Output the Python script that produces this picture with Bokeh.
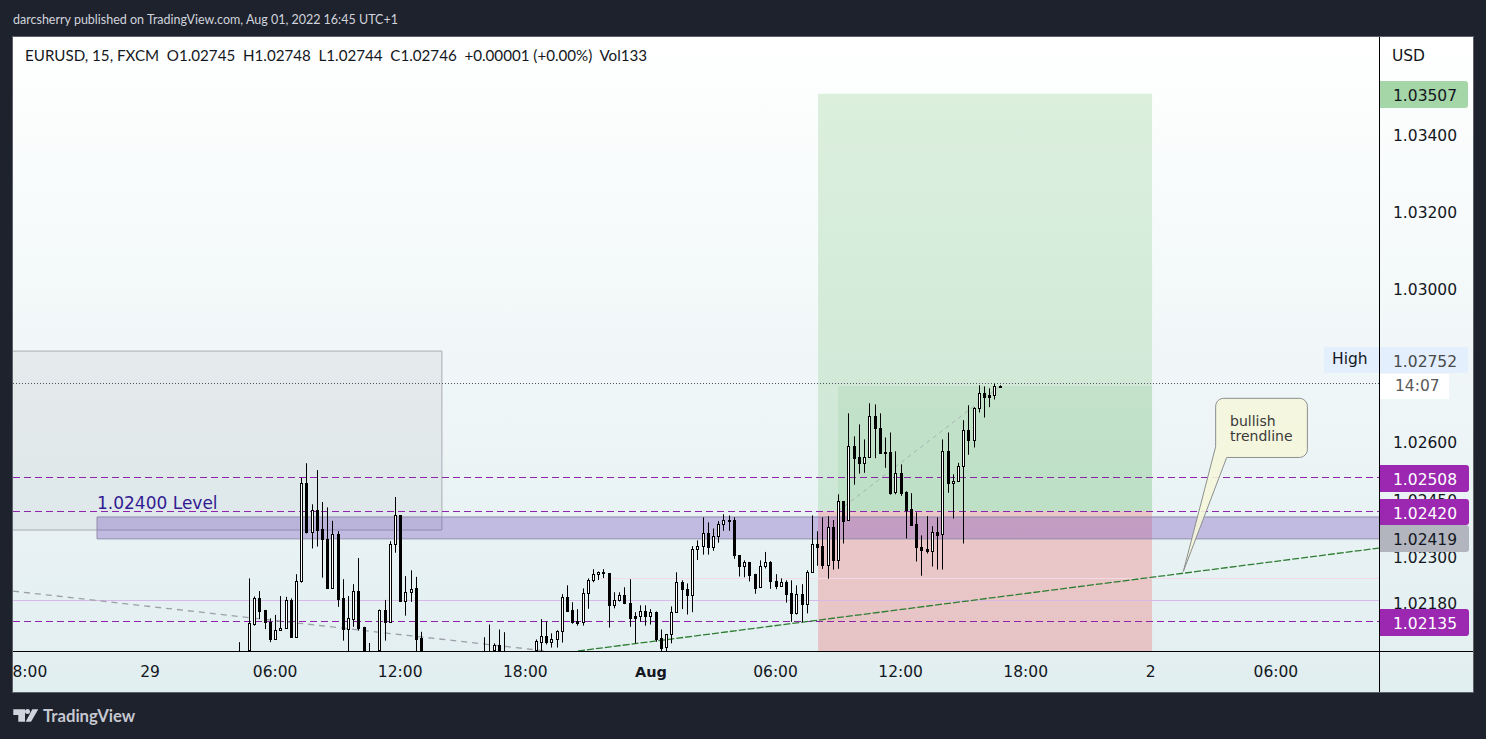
from bokeh.plotting import figure
from bokeh.models import Range1d, FixedTicker, Label, BoxAnnotation, PolyAnnotation, NumeralTickFormatter
from bokeh.embed import file_html
from bokeh.resources import INLINE
import numpy as np

# ---------- data: quarter-hour slots after 29 Jul 00:00, OHLC ----------
slots = [17,19,20,21,22,23,24,25,26,27,28,29,30,31,32,33,34,35,36,37,38,39,40,41,42,44,45,46,47,48,49,50,51,52,
 64,65,66,67,68,74,75,76,77,78,79,80,81,82,83,84,85,86,87,88,89,90,91,92,93,94,95,96,97,98,99,100,101,102,103,104,105,
 106,107,108,109,110,111,112,113,114,115,116,117,118,119,120,121,122,123,124,125,126,
 127,128,129,130,131,132,133,134,135,136,137,138,139,140,141,142,143,144,145,146,147,148,149,150,151,152,153,154,155,156,157,158,159,160,161,162,163]
opens = [1.02050,1.02040,1.02126,1.02193,1.02162,1.02132,1.02088,1.02110,1.02115,1.02189,1.02093,1.02237,1.02493,1.02367,1.02422,1.02373,1.02348,1.02221,1.02360,1.02193,1.02114,1.02140,1.02211,1.02118,1.02050,1.02040,1.02162,1.02132,1.02334,1.02409,1.02187,1.02209,1.02219,1.02089,
 1.02050,1.02050,1.02040,1.02071,1.02050,1.02040,1.02080,1.02094,1.02080,1.02086,1.02107,1.02196,1.02162,1.02133,1.02131,1.02206,1.02240,1.02256,1.02263,1.02258,1.02177,1.02188,1.02201,1.02180,1.02146,1.02146,1.02159,1.02146,1.02157,1.02089,1.02066,1.02099,1.02157,1.02235,1.02217,1.02201,1.02321,
 1.02329,1.02362,1.02326,1.02355,1.02386,1.02397,1.02396,1.02305,1.02277,1.02287,1.02256,1.02222,1.02277,1.02287,1.02237,1.02224,1.02235,1.02206,1.02156,1.02204,1.02178,
 1.02263,1.02335,1.02329,1.02281,1.02378,1.02294,1.02446,1.02396,1.02589,1.02560,1.02546,1.02560,1.02667,1.02638,1.02573,1.02573,1.02469,1.02519,1.02469,1.02425,1.02386,1.02326,1.02321,1.02317,1.02365,1.02360,1.02576,1.02493,1.02498,1.02537,1.02631,1.02605,1.02688,1.02727,1.02722,1.02722,1.02745]
highs = [1.02079,1.02245,1.02198,1.02212,1.02163,1.02141,1.02150,1.02199,1.02197,1.02193,1.02256,1.02507,1.02545,1.02438,1.02527,1.02444,1.02430,1.02395,1.02368,1.02243,1.02199,1.02230,1.02298,1.02119,1.02077,1.02164,1.02189,1.02342,1.02457,1.02409,1.02251,1.02266,1.02249,1.02106,
 1.02092,1.02125,1.02076,1.02112,1.02105,1.02086,1.02139,1.02133,1.02102,1.02110,1.02204,1.02227,1.02183,1.02165,1.02219,1.02245,1.02269,1.02263,1.02269,1.02258,1.02209,1.02209,1.02222,1.02243,1.02157,1.02175,1.02175,1.02165,1.02159,1.02112,1.02099,1.02172,1.02261,1.02240,1.02232,1.02329,1.02344,
 1.02404,1.02391,1.02375,1.02394,1.02412,1.02409,1.02404,1.02305,1.02292,1.02288,1.02257,1.02292,1.02314,1.02290,1.02256,1.02245,1.02240,1.02240,1.02227,1.02230,1.02266,
 1.02409,1.02368,1.02404,1.02407,1.02397,1.02464,1.02446,1.02675,1.02615,1.02646,1.02607,1.02701,1.02698,1.02675,1.02612,1.02625,1.02576,1.02542,1.02472,1.02467,1.02417,1.02357,1.02407,1.02381,1.02404,1.02607,1.02625,1.02516,1.02546,1.02657,1.02696,1.02691,1.02748,1.02745,1.02740,1.02752,1.02748]
lows = [1.02030,1.02030,1.02122,1.02139,1.02113,1.02079,1.02088,1.02110,1.02115,1.02093,1.02093,1.02234,1.02362,1.02323,1.02328,1.02247,1.02221,1.02221,1.02171,1.02083,1.02030,1.02119,1.02109,1.02030,1.02030,1.02030,1.02083,1.02130,1.02312,1.02184,1.02148,1.02184,1.02030,1.02030,
 1.02030,1.02030,1.02030,1.02030,1.02030,1.02030,1.02040,1.02073,1.02065,1.02065,1.02078,1.02161,1.02127,1.02122,1.02122,1.02166,1.02235,1.02241,1.02246,1.02117,1.02167,1.02185,1.02178,1.02119,1.02076,1.02132,1.02122,1.02125,1.02080,1.02040,1.02040,1.02076,1.02157,1.02165,1.02151,1.02157,1.02293,
 1.02307,1.02307,1.02317,1.02338,1.02369,1.02369,1.02296,1.02250,1.02248,1.02237,1.02205,1.02222,1.02271,1.02218,1.02217,1.02224,1.02182,1.02132,1.02151,1.02131,1.02154,
 1.02263,1.02278,1.02270,1.02244,1.02268,1.02270,1.02336,1.02396,1.02489,1.02518,1.02520,1.02560,1.02558,1.02571,1.02533,1.02463,1.02464,1.02460,1.02349,1.02385,1.02289,1.02252,1.02310,1.02276,1.02268,1.02268,1.02468,1.02401,1.02497,1.02336,1.02567,1.02586,1.02677,1.02664,1.02691,1.02711,1.02744]
closes = [1.02040,1.02128,1.02193,1.02161,1.02131,1.02088,1.02110,1.02115,1.02188,1.02093,1.02237,1.02493,1.02366,1.02422,1.02372,1.02347,1.02221,1.02360,1.02192,1.02114,1.02141,1.02211,1.02117,1.02040,1.02040,1.02162,1.02132,1.02334,1.02409,1.02186,1.02209,1.02218,1.02088,1.02040,
 1.02040,1.02040,1.02071,1.02040,1.02040,1.02081,1.02094,1.02080,1.02086,1.02107,1.02196,1.02161,1.02132,1.02130,1.02206,1.02240,1.02256,1.02263,1.02258,1.02177,1.02188,1.02201,1.02180,1.02143,1.02143,1.02159,1.02146,1.02157,1.02088,1.02065,1.02099,1.02157,1.02235,1.02217,1.02201,1.02321,1.02329,
 1.02362,1.02326,1.02355,1.02386,1.02396,1.02395,1.02305,1.02277,1.02287,1.02255,1.02221,1.02277,1.02287,1.02237,1.02224,1.02235,1.02205,1.02156,1.02204,1.02178,1.02263,
 1.02334,1.02328,1.02280,1.02378,1.02294,1.02446,1.02395,1.02589,1.02559,1.02546,1.02560,1.02667,1.02638,1.02572,1.02572,1.02468,1.02519,1.02468,1.02424,1.02385,1.02326,1.02320,1.02317,1.02365,1.02359,1.02576,1.02493,1.02498,1.02537,1.02631,1.02605,1.02688,1.02727,1.02718,1.02718,1.02745,1.02746]

price_ticks = [1.034, 1.032, 1.030, 1.026, 1.0245, 1.023, 1.0218]
time_ticks = [-5.76, 0, 6, 12, 18, 30, 36, 42, 48, 54]
time_labels = ["8:00", "29", "06:00", "12:00", "18:00", "06:00", "12:00", "18:00", "2", "06:00"]

target_price = 1.03507
entry_price = 1.02420
last_price = 1.02746
high_price = 1.02752
position_start, position_fill, position_end = 32.04, 33.0, 48.06
dashed_levels = [1.02508, 1.02420, 1.02135]
supply_zone = [14.0, 1.02371, 1.02837]
level_zone = [-2.54, 1.02348, 1.02405]
thin_level = 1.02189
pink_level = 1.02246
pink_from = 21.6
bull_x = [20.53, 58.94]
bull_y = [1.02056, 1.02324]
bear_x = [-6.57, 19.0]
bear_y = [1.02212, 1.02056]
path_x = [33.0, 40.77]
path_y = [1.02420, 1.02746]

FONT = "DejaVu Sans"
UI = "Lato"
INK = "#131722"

# reference-pixel helpers: the plot frame fills the page, 1 unit = 1 page pixel
def Xp(px): return (px - 150) / 20.85
def Yp(py): return 1.03 - (py - 288.5) / 38400
def Xs(h): return 150 + 20.85 * np.asarray(h)
def Ys(v): return 288.5 + (1.03 - np.asarray(v)) * 38400
def row(v): return Yp(np.round(Ys(v)) + 0.5)

LEFT, RIGHT, BASE = Xp(13), Xp(1379), Yp(651)

css_bg = ("linear-gradient(to bottom,#ffffff,#e1eef0) 13px 37px/1460px 655px no-repeat,"
          "linear-gradient(#5d606b,#5d606b) 12px 36px/1462px 657px no-repeat,#1e222d")

# Bokeh paints with a half-pixel translate, so the ranges are offset by the same half pixel
p = figure(width=1486, height=739, frame_width=1486, frame_height=739,
           output_backend="svg", toolbar_location=None,
           x_range=Range1d(Xp(0.5), Xp(1486.5)), y_range=Range1d(Yp(739.5), Yp(0.5)),
           y_axis_location="right", min_border=0,
           border_fill_color=None, background_fill_color=None, outline_line_color=None,
           styles={"background": css_bg})
p.grid.visible = False

ax = p.xaxis[0]
ax.fixed_location = Yp(651)
ax.ticker = FixedTicker(ticks=time_ticks)
ax.major_label_overrides = dict(zip(time_ticks, time_labels))
ax.axis_line_color = None; ax.major_tick_line_color = None; ax.minor_tick_line_color = None
ax.major_label_text_font = FONT; ax.major_label_text_font_size = "15.5px"; ax.major_label_text_color = INK
ax.major_label_standoff = 6

ay = p.yaxis[0]
ay.fixed_location = Xp(1379)
ay.ticker = FixedTicker(ticks=price_ticks)
ay.formatter = NumeralTickFormatter(format="0.00000")
ay.axis_line_color = None; ay.major_tick_line_color = None; ay.minor_tick_line_color = None
ay.major_label_text_font = FONT; ay.major_label_text_font_size = "15.5px"; ay.major_label_text_color = INK
ay.major_label_standoff = 8

# zones
p.quad(left=[LEFT], right=[supply_zone[0]], bottom=[supply_zone[1]], top=[supply_zone[2]],
       fill_color="#787b86", fill_alpha=0.09, line_color=None)
p.line([LEFT, supply_zone[0], supply_zone[0], LEFT],
       [supply_zone[2], supply_zone[2], supply_zone[1], supply_zone[1]], line_color="#a9acb4", line_width=1)
p.quad(left=[position_start], right=[position_end], bottom=[entry_price], top=[target_price],
       fill_color="#4caf50", fill_alpha=0.18, line_color=None)
p.quad(left=[position_fill], right=[position_end], bottom=[entry_price], top=[last_price],
       fill_color="#4caf50", fill_alpha=0.11, line_color=None)
p.quad(left=[position_start], right=[position_end], bottom=[BASE], top=[entry_price],
       fill_color="#ef5350", fill_alpha=0.27, line_color=None)
p.quad(left=[level_zone[0]], right=[RIGHT], bottom=[level_zone[1]], top=[level_zone[2]],
       fill_color="#673ab7", fill_alpha=0.3, line_color=None)
p.line([RIGHT, level_zone[0], level_zone[0], RIGHT],
       [level_zone[2], level_zone[2], level_zone[1], level_zone[1]], line_color="#8f8aad", line_width=1)

# level lines
p.line([LEFT, RIGHT], [row(thin_level)] * 2, line_color="#d7b9e8", line_width=1)
p.line([Xp(Xs(pink_from)), RIGHT], [row(pink_level)] * 2, line_color="#f2dbe6", line_width=1)
for lv in dashed_levels:
    p.line([LEFT, RIGHT], [row(lv)] * 2, line_color="#8e24aa", line_width=1, line_dash=[7, 4])
p.line([LEFT, RIGHT], [Yp(383.5)] * 2, line_color="#50535e", line_width=1, line_dash=[1, 2])
p.line(bear_x, bear_y, line_color="#9da0a6", line_width=1.3, line_dash=[6, 5])
p.line(path_x, path_y, line_color="#9598a1", line_width=1, line_dash=[4, 4], line_alpha=0.6)
p.line(bull_x, bull_y, line_color="#2e7d32", line_width=1.3, line_dash=[7, 2])

# candles drawn to pixel columns, clipped at the pane bottom
t = np.array(slots) * 0.25
col = np.round(Xs(t))
o, h, l, c = [np.maximum(np.array(a), BASE) for a in (opens, highs, lows, closes)]
up = np.array(closes) >= np.array(opens)
cx = Xp(col + 0.5)
p.segment(cx, h, cx, l, line_color="#000000", line_width=1)
top_px = np.round(Ys(np.maximum(o, c)))
bot_px = np.round(Ys(np.minimum(o, c)))
visible = top_px < 651
outer_b = np.minimum(np.maximum(bot_px + 1, top_px + 2), 651)
p.quad(left=Xp(col[visible] - 1), right=Xp(col[visible] + 2), top=Yp(top_px[visible]), bottom=Yp(outer_b[visible]),
       fill_color="#000000", line_color=None)
hollow = visible & up & (outer_b - top_px >= 3)
p.quad(left=Xp(col[hollow]), right=Xp(col[hollow] + 1), top=Yp(top_px[hollow] + 1), bottom=Yp(outer_b[hollow] - 1),
       fill_color="#ffffff", line_color=None)

# callout
box = [51.11, 55.51, 1.02560, 1.02714]
rx, ry = 0.384, 0.000208
def arc(cx_, cy_, a0, a1):
    a = np.radians(np.linspace(a0, a1, 7))
    return list(cx_ + rx * np.cos(a)), list(cy_ + ry * np.sin(a))
L, R, B, T = box
xs, ys = [], []
for seg in (arc(L + rx, T - ry, 180, 90), arc(R - rx, T - ry, 90, 0), arc(R - rx, B + ry, 0, -90)):
    xs += seg[0]; ys += seg[1]
xs += [51.64, 49.56, 51.11]
ys += [1.02560, 1.02263, 1.02588]
p.patch(xs, ys, fill_color="#f5f6dc", fill_alpha=0.9, line_color="#8b8f8d", line_width=1)

def label(px, py, text, size, color=INK, font=FONT, weight="normal", align="left"):
    p.add_layout(Label(x=Xp(px), y=Yp(py), text=text, text_font=font, text_font_size=f"{size}px",
                       text_color=color, text_font_style=weight, text_align=align, text_baseline="middle"))

def block(x0, x1, y0, y1, color, radius=0):
    p.add_layout(BoxAnnotation(left=Xp(x0), right=Xp(x1), top=Yp(y0), bottom=Yp(y1), fill_color=color,
                               fill_alpha=1, line_color=None, border_radius=radius, level="annotation",
                               editable=False))

label(1230, 420.5, "bullish", 14, "#3a3a3a")
label(1230, 435.5, "trendline", 14, "#3a3a3a")
label(97, 503, "1.02400 Level", 17, "#311b92")

# axis lines
block(1379, 1380, 37, 692, "#000000")
block(13, 1473, 651, 652, "#000000")
label(651, 672, "Aug", 14.5, INK, FONT, "bold", "center")
label(1408.5, 55.5, "USD", 15.5, INK, FONT, "normal", "center")

# price tags
rr = (0, 3, 3, 0)
block(1380, 1468, 81, 108, "#a5d6a7", rr);  label(1393, 94.5, "1.03507", 15.5)
block(1324, 1379, 347, 373, "#e3effd");     label(1332, 359, "High", 15.5)
block(1380, 1468, 347, 373, "#e3effd", rr); label(1393, 361, "1.02752", 15.5, "#4a4a4a")
block(1380, 1449, 374, 399, "#ffffff");     label(1395, 386, "14:07", 15.5, "#5a5a5a")
block(1380, 1469, 465, 492, "#9c27b0", rr); label(1393, 478.5, "1.02508", 15.5, "#ffffff")
block(1380, 1469, 499, 525, "#9c27b0", rr); label(1393, 512.5, "1.02420", 15.5, "#ffffff")
block(1380, 1469, 525, 552, "#b2b5be", rr); label(1393, 539, "1.02419", 15.5)
block(1380, 1469, 609, 636, "#9c27b0", rr); label(1393, 622.5, "1.02135", 15.5, "#ffffff")

# header, legend, logo
label(13, 19, "darcsherry published on TradingView.com, Aug 01, 2022 16:45 UTC+1", 12.5, "#d1d4dc", UI)
label(25, 55, "EURUSD, 15, FXCM\u00a0\u00a0O1.02745\u00a0\u00a0H1.02748\u00a0\u00a0L1.02744\u00a0\u00a0C1.02746\u00a0\u00a0+0.00001 (+0.00%)\u00a0\u00a0Vol133", 15.15, INK, UI)
label(43, 716, "TradingView", 16.7, "#c5c8d0", UI, "bold")

p.add_layout(PolyAnnotation(xs=[Xp(v) for v in (13.3, 25, 25, 18.3, 18.3, 13.3)],
                            ys=[Yp(v) for v in (709.3, 709.3, 721.7, 721.7, 715, 715)],
                            fill_color="#d1d4dc", fill_alpha=1, line_color=None))
p.add_layout(PolyAnnotation(xs=[Xp(v) for v in (32.3, 38.3, 31, 25.7)],
                            ys=[Yp(v) for v in (709.3, 709.3, 721.7, 721.7)],
                            fill_color="#d1d4dc", fill_alpha=1, line_color=None))
p.scatter([Xp(27.5)], [Yp(711.5)], size=5, fill_color="#d1d4dc", line_color=None)

html = file_html(p, INLINE)
open("out.html", "w").write(html.replace("</head>", "<style>html,body{background:#1e222d;overflow:hidden}</style></head>"))
